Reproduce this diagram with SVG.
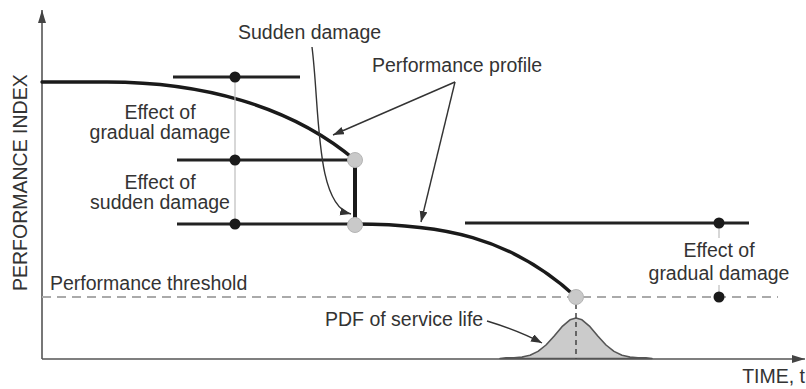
<svg xmlns="http://www.w3.org/2000/svg" width="806" height="389" viewBox="0 0 806 389">
<style>
text{font-family:"Liberation Sans",Arial,sans-serif;font-size:19.5px;fill:#333}
.mid{text-anchor:middle}
.bar{stroke:#222;stroke-width:3;fill:none}
.prof{stroke:#1a1a1a;stroke-width:3.4;fill:none;stroke-linecap:round}
.guide{stroke:#bdbdbd;stroke-width:1.2;fill:none}
.dot{fill:#1a1a1a}
.gc{fill:#c9c9c9;stroke:#b5b5b5;stroke-width:1}
.ptr{stroke:#333;stroke-width:1.4;fill:none;marker-end:url(#ah)}
.axis{stroke:#555;stroke-width:1.6;fill:none}
</style>
<defs>
<marker id="ah" markerUnits="userSpaceOnUse" markerWidth="12" markerHeight="10" refX="11" refY="4" orient="auto">
<path d="M0,0 L11,4 L0,8 Z" fill="#333"/>
</marker>
<marker id="axh" markerUnits="userSpaceOnUse" markerWidth="14" markerHeight="10" refX="13" refY="4" orient="auto">
<path d="M0,0 L13,4 L0,8 Z" fill="#444"/>
</marker>
</defs>
<rect width="806" height="389" fill="#fff"/>
<g id="axes">
<line class="axis" x1="42" y1="359" x2="42" y2="10" marker-end="url(#axh)"/>
<line class="axis" x1="42" y1="359" x2="805" y2="359" marker-end="url(#axh)"/>
<text transform="translate(27,291) rotate(-90)">PERFORMANCE INDEX</text>
<text x="805" y="383" text-anchor="end">TIME, t</text>
</g>
<g id="threshold">
<line x1="42" y1="297" x2="778" y2="297" stroke="#aaa" stroke-width="1.8" stroke-dasharray="9,6"/>
<text x="50" y="290">Performance threshold</text>
</g>
<g id="pdf">
<path d="M500,358.5 L506,357.9 L514,357.7 L522,357 L530,355.2 L538,351.4 L546,345 L554,336.2 L562,326.7 L570,319.8 L576,318 L582,319.8 L590,326.7 L598,336.2 L606,345 L614,351.4 L622,355.2 L630,357 L638,357.7 L646,357.9 L652,358.5 Z" fill="#cbcbcb" stroke="#555" stroke-width="1.6" stroke-linejoin="round"/>
<line x1="576" y1="304" x2="576" y2="359" stroke="#444" stroke-width="1.5" stroke-dasharray="5,4"/>
<text x="325" y="326">PDF of service life</text>
</g>
<g id="profile">
<path class="prof" d="M42,82 L107,82 C200,82 290,105 355,160"/>
<line x1="355" y1="160" x2="355" y2="224" stroke="#1a1a1a" stroke-width="4"/>
<path class="prof" d="M355,224 C440,224 510,236 576,297"/>
</g>
<g id="gradual-left">
<line class="guide" x1="235" y1="77" x2="235" y2="224"/>
<line class="bar" x1="173" y1="77" x2="300" y2="77"/>
<circle class="dot" cx="235" cy="77" r="5.5"/>
<line class="bar" x1="177" y1="160" x2="352" y2="160"/>
<circle class="dot" cx="235" cy="160" r="5.5"/>
<line class="bar" x1="177" y1="224" x2="350" y2="224"/>
<circle class="dot" cx="235" cy="224" r="5.5"/>
<text class="mid" x="160" y="119">Effect of</text>
<text class="mid" x="160" y="139">gradual damage</text>
<text class="mid" x="160" y="189">Effect of</text>
<text class="mid" x="160" y="209">sudden damage</text>
</g>
<g id="gradual-right">
<line class="guide" x1="719" y1="223" x2="719" y2="238"/>
<line class="guide" x1="719" y1="285" x2="719" y2="297"/>
<line class="bar" x1="465" y1="223" x2="749" y2="223"/>
<circle class="dot" cx="719" cy="223" r="5.5"/>
<circle class="dot" cx="719" cy="297" r="5.5"/>
<text class="mid" x="719" y="257">Effect of</text>
<text class="mid" x="719" y="280">gradual damage</text>
</g>
<g id="points">
<circle class="gc" cx="355" cy="160" r="7.5"/>
<circle class="gc" cx="355" cy="225" r="7.5"/>
<circle class="gc" cx="576" cy="297" r="7.5"/>
</g>
<g id="labels">
<text x="238" y="39">Sudden damage</text>
<text x="372" y="72">Performance profile</text>
</g>
<g id="connectors">
<path class="ptr" d="M312,47 C320,110 315,205 351,214"/>
<path class="ptr" d="M455,82 L333,135"/>
<path class="ptr" d="M455,82 L421,222"/>
<path class="ptr" d="M487,321 C510,328 525,334 542,343"/>
</g>
</svg>
